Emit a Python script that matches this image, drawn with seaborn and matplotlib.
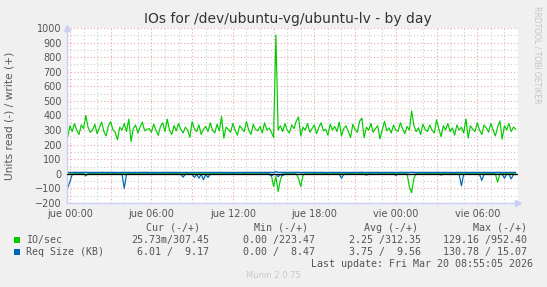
import numpy as np
import pandas as pd
import matplotlib
matplotlib.use("Agg")
import matplotlib.pyplot as plt
import matplotlib.dates as mdates
from matplotlib.ticker import MultipleLocator, FuncFormatter
from matplotlib.patches import Rectangle
import seaborn as sns

# ---------------- data (10-minute samples) ----------------
io_write = [
    250, 330, 290, 345, 300, 270, 335, 310, 400, 320, 285, 300,
    340, 275, 315, 355, 290, 260, 330, 358, 300, 285, 233, 320,
    300, 345, 290, 375, 222, 310, 335, 280, 320, 355, 295, 305,
    310, 285, 340, 300, 265, 325, 350, 290, 375, 300, 270, 330,
    295, 345, 305, 280, 320, 300, 251, 358, 310, 290, 335, 270,
    305, 325, 290, 350, 300, 280, 340, 295, 393, 245, 320, 305,
    285, 345, 300, 265, 330, 310, 290, 358, 300, 270, 340, 305,
    295, 325, 280, 350, 300, 315, 285, 250, 952, 300, 330, 290,
    345, 300, 280, 335, 310, 360, 390, 260, 320, 300, 345, 285,
    310, 335, 275, 320, 350, 295, 305, 265, 340, 300, 325, 290,
    355, 260, 310, 330, 290, 250, 340, 305, 285, 360, 382, 248,
    320, 300, 345, 285, 310, 330, 240, 300, 360, 295, 315, 280,
    335, 300, 290, 350, 310, 275, 325, 300, 431, 330, 290, 315,
    270, 340, 305, 290, 335, 300, 280, 370, 310, 255, 330, 300,
    345, 290, 315, 265, 335, 300, 320, 280, 377, 245, 330, 305,
    290, 350, 300, 270, 335, 315, 285, 345, 300, 260, 320, 363,
    238, 330, 300, 345, 290, 320, 307,
]
io_read = [
    0, 0, 0, 0, 0, 0, 0, 0, 15, 0, 0, 0,
    0, 0, 0, 0, 0, 0, 0, 0, 0, 0, 0, 0,
    0, 0, 0, 0, 0, 0, 0, 0, 0, 0, 0, 0,
    0, 0, 0, 0, 0, 0, 0, 0, 0, 0, 0, 0,
    0, 0, 0, 0, 0, 0, 0, 0, 0, 0, 0, 0,
    0, 0, 0, 0, 0, 0, 0, 0, 0, 0, 0, 0,
    0, 0, 0, 0, 0, 0, 0, 0, 0, 0, 0, 0,
    0, 0, 0, 0, 0, 0, 10, 87, 20, 121, 40, 0,
    0, 0, 0, 0, 0, 0, 30, 87, 10, 0, 0, 0,
    0, 0, 0, 0, 0, 0, 0, 0, 0, 0, 0, 0,
    0, 0, 0, 0, 0, 0, 0, 0, 0, 0, 0, 0,
    0, 0, 0, 0, 0, 0, 0, 0, 0, 0, 0, 0,
    0, 0, 0, 0, 0, 0, 0, 90, 129, 30, 0, 0,
    0, 0, 0, 0, 0, 0, 0, 0, 0, 0, 0, 0,
    0, 0, 0, 0, 0, 0, 0, 0, 0, 0, 0, 0,
    0, 0, 0, 0, 0, 0, 0, 0, 0, 0, 57, 0,
    0, 0, 0, 0, 0, 0, 0,
]
req_write = [
    9.4, 9.8, 9.2, 10.1, 9.6, 9.3, 9.9, 9.5, 10.4, 9.7, 9.2, 9.6,
    9.8, 9.3, 9.5, 10.0, 9.4, 9.1, 9.7, 9.9, 9.5, 9.3, 9.0, 9.6,
    9.5, 9.9, 9.3, 10.2, 8.9, 9.5, 9.8, 9.2, 9.6, 10.0, 9.4, 9.5,
    9.6, 9.3, 9.8, 9.5, 9.1, 9.7, 9.9, 9.3, 10.1, 9.5, 9.2, 9.7,
    9.4, 9.8, 9.5, 9.2, 9.7, 9.5, 9.0, 9.9, 9.6, 9.3, 9.8, 9.2,
    9.5, 9.7, 9.3, 9.9, 9.5, 9.2, 9.8, 9.4, 10.3, 9.0, 9.6, 9.5,
    9.3, 9.8, 9.5, 9.1, 9.7, 9.6, 9.3, 9.9, 9.5, 9.2, 9.8, 9.5,
    9.4, 9.7, 9.2, 9.9, 9.5, 9.6, 9.3, 9.0, 15.1, 9.5, 9.7, 9.3,
    9.8, 9.5, 9.2, 9.8, 9.6, 10.0, 10.3, 9.1, 9.7, 9.5, 9.8, 9.3,
    9.6, 9.8, 9.2, 9.7, 9.9, 9.4, 9.5, 9.1, 9.8, 9.5, 9.7, 9.3,
    9.9, 9.1, 9.6, 9.7, 9.3, 9.0, 9.8, 9.5, 9.3, 10.0, 10.2, 9.0,
    9.7, 9.5, 9.8, 9.3, 9.6, 9.7, 8.8, 9.5, 10.0, 9.4, 9.6, 9.2,
    9.8, 9.5, 9.3, 9.9, 9.6, 9.2, 9.7, 9.5, 10.6, 9.7, 9.3, 9.6,
    9.2, 9.8, 9.5, 9.3, 9.8, 9.5, 9.2, 10.1, 9.6, 9.0, 9.7, 9.5,
    9.8, 9.3, 9.6, 9.1, 9.8, 9.5, 9.7, 9.2, 10.1, 9.0, 9.7, 9.5,
    9.3, 9.9, 9.5, 9.2, 9.8, 9.6, 9.3, 9.8, 9.5, 9.1, 9.7, 10.0,
    8.9, 9.7, 9.5, 9.8, 9.3, 9.6, 9.2,
]
req_read = [
    97, 53, 5, 3, 4, 3, 2, 3, 4, 3, 2, 3,
    3, 2, 4, 3, 3, 2, 3, 4, 3, 2, 3, 3,
    3, 100, 4, 3, 2, 3, 3, 4, 2, 3, 3, 2,
    3, 3, 2, 4, 3, 3, 2, 3, 4, 3, 2, 3,
    3, 4, 3, 23, 3, 2, 4, 3, 25, 4, 30, 3,
    41, 5, 25, 3, 3, 2, 4, 3, 3, 2, 3, 4,
    3, 2, 3, 3, 4, 3, 2, 3, 3, 4, 3, 2,
    3, 3, 4, 3, 2, 3, 15, 4, 3, 20, 5, 12,
    3, 4, 3, 2, 3, 3, 4, 3, 2, 3, 3, 4,
    3, 2, 3, 4, 3, 3, 2, 3, 4, 3, 2, 3,
    3, 30, 3, 4, 2, 3, 3, 4, 3, 2, 3, 3,
    8, 3, 2, 3, 4, 3, 3, 2, 3, 4, 3, 3,
    2, 10, 3, 3, 4, 2, 3, 3, 4, 3, 2, 3,
    3, 4, 3, 2, 3, 3, 4, 3, 2, 8, 3, 3,
    4, 3, 2, 3, 3, 4, 82, 3, 3, 2, 4, 3,
    3, 3, 4, 45, 3, 2, 3, 4, 3, 3, 2, 3,
    3, 30, 3, 4, 35, 3, 6,
]

start_time = "2026-03-18 23:50"
sample_freq = "10min"
x_start = "2026-03-18 23:47"
x_end = "2026-03-20 09:00"
day_names = ["lun", "mar", "mié", "jue", "vie", "sáb", "dom"]

title = "IOs for /dev/ubuntu-vg/ubuntu-lv - by day"
y_label = "Units read (-) / write (+)"
side_label = "RRDTOOL / TOBI OETIKER"
legend_headers = ["Cur (-/+)", "Min (-/+)", "Avg (-/+)", "Max (-/+)"]
legend_names = ["IO/sec", "Req Size (KB)"]
legend_values = [
    ["25.73m/307.45", "0.00 /223.47", "2.25 /312.35", "129.16 /952.40"],
    ["6.01 /  9.17", "0.00 /  8.47", "3.75 /  9.56", "130.78 / 15.07"],
]
last_update = "Last update: Fri Mar 20 08:55:05 2026"
footer = "Munin 2.0.75"

GREEN = "#00cc00"
BLUE = "#0066b3"
TEXT = "#555555"

# ---------------- figure ----------------
sns.set_style("white")
plt.rcParams["font.family"] = ["DejaVu Sans"]

W, H = 547, 287
fig = plt.figure(figsize=(W / 100, H / 100), dpi=100, facecolor="#f0f0f0")
L, R, T, B = 67, 518, 28, 203
ax = fig.add_axes([L / W, 1 - B / H, (R - L) / W, (B - T) / H])
ax.set_facecolor("white")

times = pd.date_range(start_time, periods=len(io_write), freq=sample_freq)
df = pd.DataFrame({
    "time": times,
    "io_write": io_write,
    "io_read": -np.asarray(io_read, dtype=float),
    "req_write": req_write,
    "req_read": -np.asarray(req_read, dtype=float),
})

lw = 0.85
sns.lineplot(data=df, x="time", y="io_read", color=GREEN, linewidth=lw, ax=ax)
sns.lineplot(data=df, x="time", y="io_write", color=GREEN, linewidth=lw, ax=ax)
sns.lineplot(data=df, x="time", y="req_read", color=BLUE, linewidth=lw, ax=ax)
sns.lineplot(data=df, x="time", y="req_write", color=BLUE, linewidth=1.0, ax=ax)
ax.axhline(0, color="black", linewidth=0.9, zorder=5)

ax.set_xlim(pd.Timestamp(x_start), pd.Timestamp(x_end))
ax.set_ylim(-200, 1000)
ax.set_xlabel("")
ax.set_ylabel("")

ax.xaxis.set_major_locator(mdates.HourLocator(byhour=range(0, 24, 3)))
ax.xaxis.set_minor_locator(mdates.HourLocator())


def fmt_time(v, pos):
    d = mdates.num2date(v)
    if d.hour % 6 != 0:
        return ""
    return f"{day_names[d.weekday()]} {d:%H:%M}"


ax.xaxis.set_major_formatter(FuncFormatter(fmt_time))
ax.yaxis.set_major_locator(MultipleLocator(100))
ax.yaxis.set_minor_locator(MultipleLocator(50))

ax.set_axisbelow(True)
ax.grid(which="major", color="#f2a6a6", linestyle=(0, (1, 2)), linewidth=0.8)
ax.grid(which="minor", color="#cccccc", linestyle=(0, (1, 2)), linewidth=0.8)
ax.tick_params(which="major", length=2, width=0.8, color="#f2a6a6",
               labelsize=7, labelcolor=TEXT, pad=2)
ax.tick_params(which="minor", length=0)

for s in ["top", "right"]:
    ax.spines[s].set_visible(False)
for s in ["left", "bottom"]:
    ax.spines[s].set_color("#c9cff5")
    ax.spines[s].set_linewidth(1.0)
ax.plot([0], [1.0], marker="^", markersize=4, color="#c9cff5",
        transform=ax.transAxes, clip_on=False)
ax.plot([1.0], [0], marker=">", markersize=4, color="#c9cff5",
        transform=ax.transAxes, clip_on=False)


def px(x, y):
    return x / W, 1 - y / H


fig.text(*px(288, 19), title, ha="center", va="center", fontsize=10, color="#333333")
fig.text(*px(10, 116), y_label, ha="center", va="center", rotation=90,
         fontsize=7.7, color=TEXT)
fig.text(*px(537, 55), side_label, ha="center", va="center", rotation=270,
         fontsize=5.5, color="#c4c4c4")

mono = "DejaVu Sans Mono"
fs = 7.2
header_right = [200, 308, 418, 527]
value_right = [209, 315, 421, 527]
for hx, h in zip(header_right, legend_headers):
    fig.text(*px(hx, 228), h, ha="right", va="center", fontsize=fs,
             family=mono, color=TEXT)
row_y = [240, 252]
colors = [GREEN, BLUE]
for ry, name, col, vals in zip(row_y, legend_names, colors, legend_values):
    fig.patches.append(Rectangle(px(14, ry + 3), 6 / W, 6 / H, transform=fig.transFigure,
                                 facecolor=col, edgecolor="none"))
    fig.text(*px(26, ry), name, ha="left", va="center", fontsize=fs,
             family=mono, color=TEXT)
    for vx, v in zip(value_right, vals):
        fig.text(*px(vx, ry), v, ha="right", va="center", fontsize=fs,
                 family=mono, color=TEXT)
fig.text(*px(533, 264), last_update, ha="right", va="center", fontsize=fs,
         family=mono, color=TEXT)
fig.text(*px(273, 276), footer, ha="center", va="center", fontsize=6,
         color="#c8c8c8")

fig.savefig("out.png", dpi=100, facecolor=fig.get_facecolor())
